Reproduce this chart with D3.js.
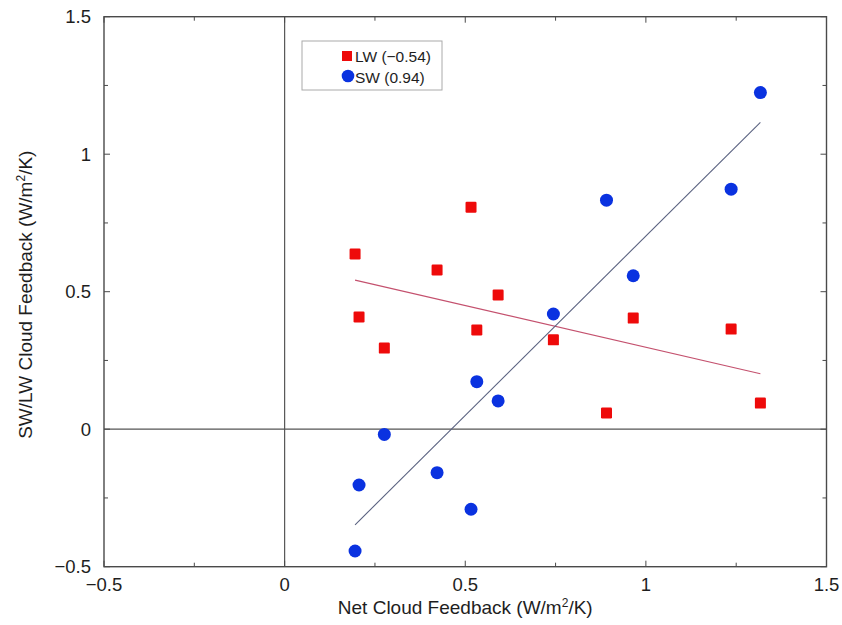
<!DOCTYPE html>
<html>
<head>
<meta charset="utf-8">
<script src="https://cdn.jsdelivr.net/npm/d3@7"></script>
<style>
  html, body { margin: 0; padding: 0; background: #fff; }
  svg { display: block; font-family: "Liberation Sans", Arial, Helvetica, sans-serif; }
</style>
</head>
<body>
<svg id="chart" width="842" height="625"></svg>
<script>
// Net cloud feedback per model and its longwave / shortwave components (W/m²/K)
const netFeedback = [0.195, 0.206, 0.276, 0.422, 0.516, 0.532, 0.591, 0.744, 0.891, 0.965, 1.236, 1.317];
const lwFeedback  = [0.637, 0.408, 0.295, 0.579, 0.807, 0.361, 0.488, 0.325, 0.059, 0.404, 0.364, 0.095];
const swFeedback  = [-0.443, -0.203, -0.019, -0.158, -0.291, 0.173, 0.103, 0.419, 0.833, 0.558, 0.873, 1.224];
const seriesNames = ["LW", "SW"];
const correlations = ["\u22120.54", "0.94"];
const xTicks = [-0.5, 0, 0.5, 1, 1.5];
const yTicks = [-0.5, 0, 0.5, 1, 1.5];
const minorTicks = [-0.25, 0.25, 0.75, 1.25];

const svg = d3.select("#chart");
const plotLeft = 104, plotRight = 826.5, plotTop = 16.7, plotBottom = 566.7;

const x = d3.scaleLinear().domain([-0.5, 1.5]).range([plotLeft, plotRight]);
const y = d3.scaleLinear().domain([-0.5, 1.5]).range([plotBottom, plotTop]);

const frameColor = "#4a4a4a";
const textColor = "#1e1e1e";
const fmt = v => (v < 0 ? "\u2212" : "") + String(Math.abs(v));

// zero lines
svg.append("line").attr("x1", x(0)).attr("x2", x(0)).attr("y1", plotTop).attr("y2", plotBottom)
  .attr("stroke", "#555").attr("stroke-width", 1.2);
svg.append("line").attr("x1", plotLeft).attr("x2", plotRight).attr("y1", y(0)).attr("y2", y(0))
  .attr("stroke", "#555").attr("stroke-width", 1.2);

// inward ticks on all four sides
function ticks(values, len) {
  values.forEach(v => {
    svg.append("line").attr("x1", x(v)).attr("x2", x(v)).attr("y1", plotBottom).attr("y2", plotBottom - len)
      .attr("stroke", frameColor).attr("stroke-width", 1);
    svg.append("line").attr("x1", x(v)).attr("x2", x(v)).attr("y1", plotTop).attr("y2", plotTop + len)
      .attr("stroke", frameColor).attr("stroke-width", 1);
    svg.append("line").attr("y1", y(v)).attr("y2", y(v)).attr("x1", plotLeft).attr("x2", plotLeft + len)
      .attr("stroke", frameColor).attr("stroke-width", 1);
    svg.append("line").attr("y1", y(v)).attr("y2", y(v)).attr("x1", plotRight).attr("x2", plotRight - len)
      .attr("stroke", frameColor).attr("stroke-width", 1);
  });
}
ticks(xTicks, 6);
ticks(minorTicks, 4);

// frame
svg.append("rect").attr("x", plotLeft).attr("y", plotTop)
  .attr("width", plotRight - plotLeft).attr("height", plotBottom - plotTop)
  .attr("fill", "none").attr("stroke", frameColor).attr("stroke-width", 1.4);

// tick labels
svg.selectAll("text.xt").data(xTicks).join("text").attr("class", "xt")
  .attr("x", d => x(d)).attr("y", 591).attr("text-anchor", "middle")
  .attr("font-size", 18.5).attr("fill", textColor).text(fmt);
svg.selectAll("text.yt").data(yTicks).join("text").attr("class", "yt")
  .attr("x", 91).attr("y", d => y(d) + 6.5).attr("text-anchor", "end")
  .attr("font-size", 18.5).attr("fill", textColor).text(fmt);

// axis titles
const xt = svg.append("text").attr("x", x(0.5)).attr("y", 614).attr("text-anchor", "middle")
  .attr("font-size", 19).attr("fill", textColor);
xt.append("tspan").text("Net Cloud Feedback (W/m");
xt.append("tspan").attr("font-size", 12).attr("dy", -7).text("2");
xt.append("tspan").attr("dy", 7).text("/K)");

const yt = svg.append("text").attr("transform", `translate(32,${y(0.5) + 3}) rotate(-90)`)
  .attr("text-anchor", "middle").attr("font-size", 19).attr("fill", textColor);
yt.append("tspan").text("SW/LW Cloud Feedback (W/m");
yt.append("tspan").attr("font-size", 12).attr("dy", -7).text("2");
yt.append("tspan").attr("dy", 7).text("/K)");

// least-squares fits of each component against net feedback
function fit(xs, ys) {
  const mx = d3.mean(xs), my = d3.mean(ys);
  const sxy = d3.sum(xs, (v, i) => (v - mx) * (ys[i] - my));
  const sxx = d3.sum(xs, v => (v - mx) * (v - mx));
  const b = sxy / sxx;
  return v => my + b * (v - mx);
}
const xMin = d3.min(netFeedback), xMax = d3.max(netFeedback);
const lwFit = fit(netFeedback, lwFeedback), swFit = fit(netFeedback, swFeedback);
svg.append("line").attr("x1", x(xMin)).attr("x2", x(xMax)).attr("y1", y(lwFit(xMin))).attr("y2", y(lwFit(xMax)))
  .attr("stroke", "#c4516e").attr("stroke-width", 1.1);
svg.append("line").attr("x1", x(xMin)).attr("x2", x(xMax)).attr("y1", y(swFit(xMin))).attr("y2", y(swFit(xMax)))
  .attr("stroke", "#5a6280").attr("stroke-width", 1.1);

// markers
const lwColor = "#ee0a0a", swColor = "#0a32e0";
const sq = 11;
svg.selectAll("rect.lw").data(netFeedback).join("rect").attr("class", "lw")
  .attr("x", d => x(d) - sq / 2).attr("y", (d, i) => y(lwFeedback[i]) - sq / 2)
  .attr("width", sq).attr("height", sq).attr("rx", 1.2).attr("fill", lwColor);
svg.selectAll("circle.sw").data(netFeedback).join("circle").attr("class", "sw")
  .attr("cx", d => x(d)).attr("cy", (d, i) => y(swFeedback[i]))
  .attr("r", 6.5).attr("fill", swColor);

// legend
svg.append("rect").attr("x", 302).attr("y", 41).attr("width", 140).attr("height", 49)
  .attr("fill", "#fff").attr("stroke", "#aaa").attr("stroke-width", 1);
svg.append("rect").attr("x", 342).attr("y", 51).attr("width", 10).attr("height", 10).attr("fill", lwColor);
svg.append("circle").attr("cx", 348).attr("cy", 76).attr("r", 6.3).attr("fill", swColor);
svg.selectAll("text.lg").data(seriesNames).join("text").attr("class", "lg")
  .attr("x", 355).attr("y", (d, i) => 61.5 + i * 21)
  .attr("font-size", 15.5).attr("fill", textColor)
  .text((d, i) => `${d} (${correlations[i]})`);
</script>
</body>
</html>
